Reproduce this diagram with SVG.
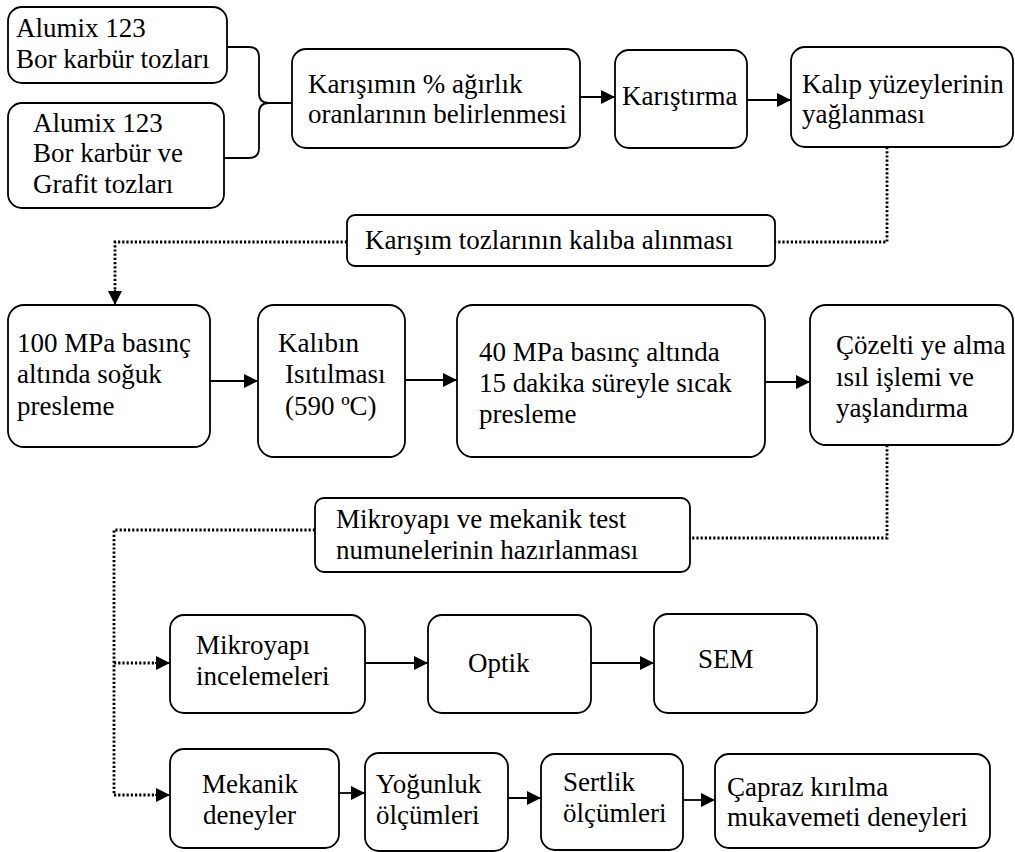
<svg xmlns="http://www.w3.org/2000/svg" width="1015" height="852" viewBox="0 0 1015 852">
  <style>
    .box { fill: #ffffff; stroke: #000000; stroke-width: 1.8; }
    text { font-family: "Liberation Serif", "Times New Roman", Times, serif; font-size: 27px; fill: #000000; }
    .solid { fill: none; stroke: #000000; stroke-width: 1.8; }
    .dot { fill: none; stroke: #000000; stroke-width: 2.8; stroke-dasharray: 2.2 2; }
  </style>
  <defs>
    <marker id="arrow" markerUnits="userSpaceOnUse" markerWidth="14" markerHeight="14" viewBox="0 0 14 14" refX="14" refY="7" orient="auto">
      <path d="M0,0 L14,7 L0,14 Z" fill="#000000"/>
    </marker>
  </defs>
  <rect width="1015" height="852" fill="#ffffff"/>

  <!-- connectors -->
  <g id="connectors">
    <!-- brace joining the two powder inputs -->
    <path class="solid" d="M227,47 H249 Q259,47 259,57 V93 Q259,103 269,103 H292"/>
    <path class="solid" d="M269,103 Q259,103 259,113 V148 Q259,158 249,158 H224"/>
    <!-- top row -->
    <line class="solid" x1="580" y1="97" x2="615" y2="97" marker-end="url(#arrow)"/>
    <line class="solid" x1="747" y1="100" x2="791" y2="100" marker-end="url(#arrow)"/>
    <!-- to mould filling and cold pressing -->
    <path class="dot" d="M887,147 V242 H775"/>
    <path class="dot" d="M347,242 H115 V292"/>
    <line class="solid" x1="115" y1="290" x2="115" y2="305" marker-end="url(#arrow)" stroke-width="0.1"/>
    <!-- pressing row -->
    <line class="solid" x1="210" y1="381" x2="258" y2="381" marker-end="url(#arrow)"/>
    <line class="solid" x1="405" y1="380" x2="457" y2="380" marker-end="url(#arrow)"/>
    <line class="solid" x1="765" y1="382" x2="810" y2="382" marker-end="url(#arrow)"/>
    <!-- to specimen preparation -->
    <path class="dot" d="M887,445 V538 H690"/>
    <path class="dot" d="M315,530 H114 V795"/>
    <line class="dot" x1="114" y1="663" x2="157" y2="663"/>
    <line class="solid" x1="155" y1="663" x2="170" y2="663" marker-end="url(#arrow)" stroke-width="0.1"/>
    <line class="dot" x1="114" y1="795" x2="157" y2="795"/>
    <line class="solid" x1="155" y1="795" x2="170" y2="795" marker-end="url(#arrow)" stroke-width="0.1"/>
    <!-- microstructure row -->
    <line class="solid" x1="365" y1="663" x2="428" y2="663" marker-end="url(#arrow)"/>
    <line class="solid" x1="591" y1="663" x2="654" y2="663" marker-end="url(#arrow)"/>
    <!-- mechanical tests row -->
    <line class="solid" x1="339" y1="793" x2="365" y2="793" marker-end="url(#arrow)"/>
    <line class="solid" x1="508" y1="798" x2="541" y2="798" marker-end="url(#arrow)"/>
    <line class="solid" x1="683" y1="800" x2="715" y2="800" marker-end="url(#arrow)"/>
  </g>

  <g id="n-alumix-b4c">
    <rect class="box" x="8" y="7" width="219" height="76" rx="14"/>
    <text x="16" y="37">Alumix 123</text>
    <text x="16" y="68">Bor karbür tozları</text>
  </g>
  <g id="n-alumix-b4c-gr">
    <rect class="box" x="8" y="103" width="216" height="105" rx="14"/>
    <text x="33" y="132">Alumix 123</text>
    <text x="33" y="162">Bor karbür ve</text>
    <text x="33" y="193">Grafit tozları</text>
  </g>
  <g id="n-oranlar">
    <rect class="box" x="292" y="49" width="288" height="99" rx="14"/>
    <text x="308" y="93">Karışımın % ağırlık</text>
    <text x="308" y="123">oranlarının belirlenmesi</text>
  </g>
  <g id="n-karistirma">
    <rect class="box" x="615" y="50" width="132" height="98" rx="14"/>
    <text x="622" y="105">Karıştırma</text>
  </g>
  <g id="n-yaglama">
    <rect class="box" x="791" y="47" width="222" height="100" rx="14"/>
    <text x="802" y="93">Kalıp yüzeylerinin</text>
    <text x="802" y="123">yağlanması</text>
  </g>
  <g id="n-kaliba-alma">
    <rect class="box" x="347" y="215" width="428" height="51" rx="8"/>
    <text x="365" y="249">Karışım tozlarının kalıba alınması</text>
  </g>
  <g id="n-soguk-presleme">
    <rect class="box" x="8" y="305" width="202" height="142" rx="16"/>
    <text x="17" y="352">100 MPa basınç</text>
    <text x="17" y="383">altında soğuk</text>
    <text x="17" y="415">presleme</text>
  </g>
  <g id="n-isitma">
    <rect class="box" x="258" y="305" width="147" height="152" rx="16"/>
    <text x="278" y="352">Kalıbın</text>
    <text x="285" y="383">Isıtılması</text>
    <text x="285" y="415">(590 ºC)</text>
  </g>
  <g id="n-sicak-presleme">
    <rect class="box" x="457" y="305" width="308" height="152" rx="16"/>
    <text x="479" y="361">40 MPa basınç altında</text>
    <text x="479" y="392">15 dakika süreyle sıcak</text>
    <text x="479" y="423">presleme</text>
  </g>
  <g id="n-isil-islem">
    <rect class="box" x="810" y="305" width="203" height="140" rx="16"/>
    <text x="836" y="354">Çözelti ye alma</text>
    <text x="836" y="386">ısıl işlemi ve</text>
    <text x="836" y="417">yaşlandırma</text>
  </g>
  <g id="n-numune">
    <rect class="box" x="315" y="498" width="375" height="74" rx="9"/>
    <text x="336" y="528">Mikroyapı ve mekanik test</text>
    <text x="336" y="559">numunelerinin hazırlanması</text>
  </g>
  <g id="n-mikroyapi">
    <rect class="box" x="170" y="615" width="195" height="98" rx="14"/>
    <text x="196" y="654">Mikroyapı</text>
    <text x="196" y="685">incelemeleri</text>
  </g>
  <g id="n-optik">
    <rect class="box" x="428" y="615" width="163" height="98" rx="14"/>
    <text x="468" y="672">Optik</text>
  </g>
  <g id="n-sem">
    <rect class="box" x="654" y="614" width="163" height="99" rx="14"/>
    <text x="698" y="668">SEM</text>
  </g>
  <g id="n-mekanik">
    <rect class="box" x="170" y="749" width="169" height="99" rx="14"/>
    <text x="202" y="793">Mekanik</text>
    <text x="203" y="824">deneyler</text>
  </g>
  <g id="n-yogunluk">
    <rect class="box" x="365" y="753" width="143" height="98" rx="14"/>
    <text x="376" y="793">Yoğunluk</text>
    <text x="376" y="824">ölçümleri</text>
  </g>
  <g id="n-sertlik">
    <rect class="box" x="541" y="754" width="142" height="96" rx="14"/>
    <text x="563" y="791">Sertlik</text>
    <text x="563" y="822">ölçümleri</text>
  </g>
  <g id="n-capraz">
    <rect class="box" x="715" y="754" width="275" height="94" rx="14"/>
    <text x="727" y="796">Çapraz kırılma</text>
    <text x="727" y="826">mukavemeti deneyleri</text>
  </g>
</svg>
